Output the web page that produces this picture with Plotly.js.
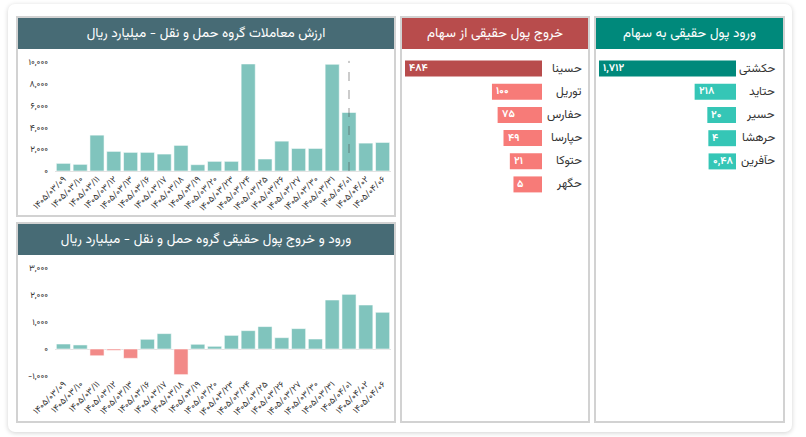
<!DOCTYPE html>
<html><head><meta charset="utf-8">
<script src="https://cdn.plot.ly/plotly-3.0.1.min.js"></script>
<style>
html,body{margin:0;padding:0;background:#fff;width:806px;height:437px;overflow:hidden;font-family:"Vazirmatn","Noto Sans Arabic","DejaVu Sans",sans-serif;}
#card{position:absolute;left:8px;top:4px;width:784px;height:428px;background:#fff;border-radius:7px;box-shadow:0 1px 5px rgba(0,0,0,0.18);}
.panel{position:absolute;box-sizing:border-box;border:2px solid #d2d2d2;background:#fff;}
.ttl{position:absolute;left:0;top:0;right:0;height:31px;color:#fff;font-size:13.5px;text-align:center;line-height:31px;direction:rtl;white-space:nowrap;}
.chart{position:absolute;}
</style></head>
<body>
<div id="card"></div>
<div class="panel" style="left:16px;top:16px;width:380px;height:201px;"><div class="ttl" style="background:#476B75;">ارزش معاملات گروه حمل و نقل - میلیارد ریال</div></div>
<div class="panel" style="left:16px;top:222px;width:380px;height:201px;"><div class="ttl" style="background:#476B75;">ورود و خروج پول حقیقی گروه حمل و نقل - میلیارد ریال</div></div>
<div class="panel" style="left:400px;top:16px;width:190px;height:407px;"><div class="ttl" style="background:#B84C4C;">خروج پول حقیقی از سهام</div></div>
<div class="panel" style="left:594px;top:16px;width:191px;height:407px;"><div class="ttl" style="background:#00897B;">ورود پول حقیقی به سهام</div></div>
<div id="c1" class="chart" style="left:17px;top:50px;width:378px;height:166px;"></div>
<div id="c2" class="chart" style="left:17px;top:256px;width:378px;height:166px;"></div>
<div id="c3" class="chart" style="left:402px;top:50px;width:186px;height:370px;"></div>
<div id="c4" class="chart" style="left:596px;top:50px;width:187px;height:370px;"></div>
<script>
// ---- data ----
const dates = ['۱۴۰۵/۰۳/۰۹','۱۴۰۵/۰۳/۱۰','۱۴۰۵/۰۳/۱۱','۱۴۰۵/۰۳/۱۲','۱۴۰۵/۰۳/۱۳','۱۴۰۵/۰۳/۱۶','۱۴۰۵/۰۳/۱۷','۱۴۰۵/۰۳/۱۸','۱۴۰۵/۰۳/۱۹','۱۴۰۵/۰۳/۲۰','۱۴۰۵/۰۳/۲۳','۱۴۰۵/۰۳/۲۴','۱۴۰۵/۰۳/۲۵','۱۴۰۵/۰۳/۲۶','۱۴۰۵/۰۳/۲۷','۱۴۰۵/۰۳/۳۰','۱۴۰۵/۰۳/۳۱','۱۴۰۵/۰۴/۰۱','۱۴۰۵/۰۴/۰۲','۱۴۰۵/۰۴/۰۶'];
const tradeValue = [700, 610, 3290, 1800, 1710, 1710, 1555, 2350, 580, 885, 885, 9820, 1100, 2740, 2070, 2070, 9790, 5370, 2560, 2620];
const netFlow = [185, 150, -250, -50, -345, 360, 570, -950, 175, 100, 505, 680, 830, 420, 755, 370, 1815, 2025, 1630, 1360];
const markerDate = '۱۴۰۵/۰۴/۰۱';
const tradeTicks = [0, 2000, 4000, 6000, 8000, 10000];
const flowTicks = [-1000, 0, 1000, 2000, 3000];
const outNames = ['حسینا','توریل','حفارس','حپارسا','حتوکا','حگهر'];
const outValues = [484, 100, 75, 49, 21, 5];
const inNames = ['حکشتی','حتاید','حسیر','حرهشا','حآفرین'];
const inValues = [1712, 218, 20, 4, 0.48];

// ---- helpers ----
const FA = '۰۱۲۳۴۵۶۷۸۹';
function toFa(n){
  return n.toLocaleString('en-US',{maximumFractionDigits:2}).replace('.', '#').replace(/[0-9]/g, d => FA[+d]).replace('#', ',');
}
const FONT = '"Vazirmatn","Noto Sans Arabic","DejaVu Sans",sans-serif';
const TEAL = '#80C4BD', PINK = '#F28A88';
const cfg = {staticPlot:true, displayModeBar:false, responsive:false};

function colChart(id, vals, ticks, range, colorFn, b, shapes){
  Plotly.newPlot(id, [{
    type:'bar', x:dates, y:vals,
    marker:{color: vals.map(colorFn), line:{color:'rgba(255,255,255,0.55)', width:1}},
    hoverinfo:'skip'
  }], {
    width:378, height:166, margin:{l:38,r:4,t:12,b:b},
    paper_bgcolor:'rgba(0,0,0,0)', plot_bgcolor:'rgba(0,0,0,0)',
    font:{family:FONT, size:9, color:'#333'},
    bargap:0.16, showlegend:false,
    xaxis:{type:'category', tickangle:-45, showgrid:false, showline:false, ticks:'', automargin:false,
           tickfont:{size:9, color:'#333'}, fixedrange:true},
    yaxis:{range:range, tickvals:ticks, ticktext:ticks.map(toFa), showgrid:false, showline:false,
           zeroline:true, zerolinecolor:'#e3e3e3', zerolinewidth:1, ticks:'', ticklabelstandoff:6,
           automargin:false, tickfont:{size:9, color:'#333'}},
    shapes: shapes || []
  }, cfg);
}

colChart('c1', tradeValue, tradeTicks, [0, 10000], () => TEAL, 45, [{
  type:'line', xref:'x', yref:'paper', x0:markerDate, x1:markerDate, y0:0, y1:1.01,
  line:{color:'rgba(70,70,70,0.55)', width:1, dash:'dash'}, layer:'above'
}]);
colChart('c2', netFlow, flowTicks, [-1000, 3000], v => v < 0 ? PINK : TEAL, 46);

// horizontal bars: each bar starts a fixed padding beyond zero so small values stay visible
function hbar(id, names, vals, topColor, restColor, width, r, b, shift){
  const mx = Math.max(...vals);
  const pad = 0.25 * mx;
  Plotly.newPlot(id, [{
    type:'bar', orientation:'h', y:names, x:vals.map(v => v + pad), base:-pad,
    marker:{color: vals.map((v,i) => i === 0 ? topColor : restColor)},
    hoverinfo:'skip'
  }], {
    width:width, height:370, margin:{l:3, r:r, t:7, b:b},
    paper_bgcolor:'rgba(0,0,0,0)', plot_bgcolor:'rgba(0,0,0,0)',
    font:{family:FONT, size:11, color:'#333'},
    bargap:0.31, showlegend:false,
    xaxis:{range:[mx, -pad], visible:false, fixedrange:true},
    yaxis:{type:'category', range:[names.length - 0.5, -0.5], visible:false, fixedrange:true},
    annotations: names.map(n => ({
      xref:'paper', yref:'y', x:1, y:n, xanchor:'right', yanchor:'middle', xshift:shift,
      text:n, showarrow:false, font:{family:FONT, size:12, color:'#333'}
    })).concat(vals.map((v,i) => ({
      xref:'x', yref:'y', x:v, y:names[i], xanchor:'left', yanchor:'middle', xshift:2,
      text:'<b>' + toFa(v) + '</b>', showarrow:false, font:{family:FONT, size:10.5, color:'#fff'}
    })))
  }, cfg);
}
hbar('c3', outNames, outValues, '#B84C4C', '#F77B78', 186, 46, 224, 42);
hbar('c4', inNames, inValues, '#00897B', '#35C6B6', 187, 47, 247, 41);
</script>
</body></html>
